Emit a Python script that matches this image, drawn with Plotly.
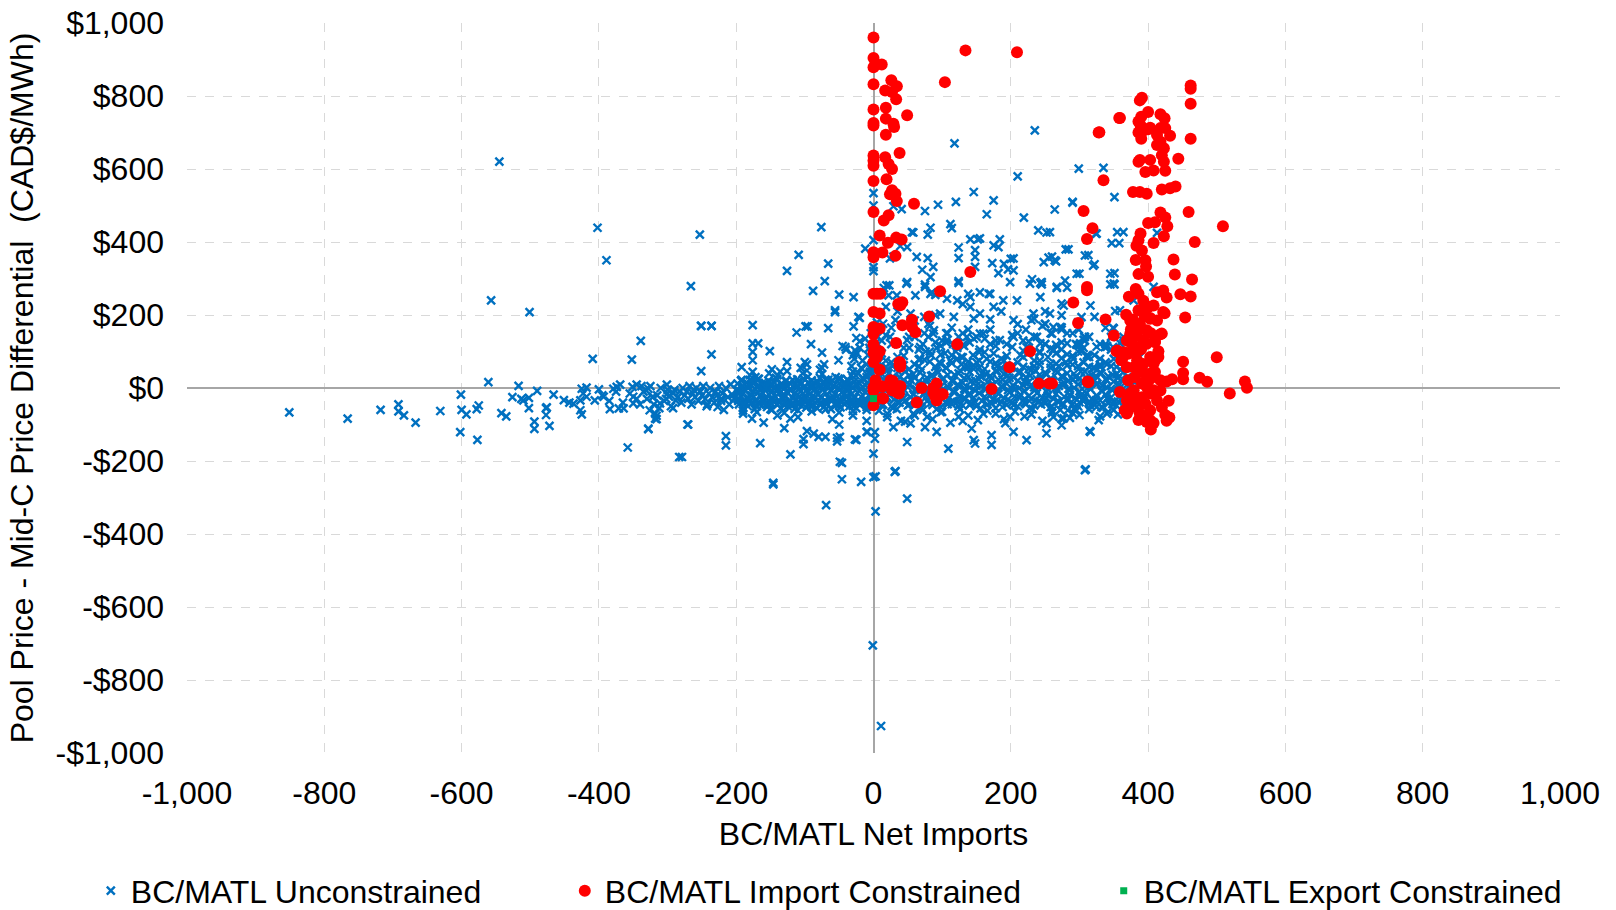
import plotly.graph_objects as go

# ---------------- tick labels ----------------
x_tickvals = [-1000, -800, -600, -400, -200, 0, 200, 400, 600, 800, 1000]
x_ticktext = ["-1,000", "-800", "-600", "-400", "-200", "0", "200", "400", "600", "800", "1,000"]
y_tickvals = [-1000, -800, -600, -400, -200, 0, 200, 400, 600, 800, 1000]
y_ticktext = ["-$1,000", "-$800", "-$600", "-$400", "-$200", "$0", "$200", "$400", "$600", "$800", "$1,000"]

# ---------------- BC/MATL Unconstrained (blue x) ----------------
# sparse left tail
tail_x = [-851, -766, -718, -692, -692, -684, -667, -631, -601, -600, -593, -602, -578, -575, -577, -561, -557, -545,
          -542, -535, -526, -517, -513, -510, -502, -502, -501, -490, -477, -477, -476, -494, -494, -472, -466, -451,
          -443, -437, -427, -425, -427, -425, -423, -418, -418, -409, -406, -402, -400, -393, -389, -384, -379, -374,
          -371, -369, -364, -358, -352, -351, -350, -350, -339, -345, -338, -328, -328, -326, -321, -316, -316, -311,
          -301, -300, -298, -292, -288, -283, -270, -266, -253, -251, -236, -251, -236, -227, -215, -215, -318, -318]
tail_y = [-67, -84, -60, -45, -64, -75, -95, -63, -18, -60, -72, -121, -58, -48, -142, 16, 240, 620,
          -69, -78, -25, 6, -30, -34, -55, -27, 208, -8, -55, -74, -53, -92, -112, -104, -18, -33,
          -40, -43, -34, -2, -61, -72, -15, 1, -24, 80, -34, 439, -4, -24, 350, -58, -2, 3,
          -56, 9, -56, -163, 78, 3, -24, -42, 129, 9, 5, -2, -113, -61, -24, -76, -85, -42,
          9, -5, -24, -55, -34, -189, -100, 279, 420, 170, 170, 46, 92, -52, -132, -157, -70, -84]

# band from -400 to -200
band_w_x = [-335, -330, -325, -320, -315, -310, -305, -300, -295, -290, -285, -280, -278, -275, -272, -270, -268, -265,
            -263, -260, -258, -255, -252, -250, -248, -245, -243, -240, -238, -235, -232, -230, -228, -225, -222, -220,
            -218, -215, -212, -210, -208, -205, -203, -200,
            -395, -385, -375, -365, -355, -345, -340, -332, -322, -312, -302, -292, -282, -262, -242, -222]
band_w_y = [-10, -30, 5, -45, -20, 0, -35, -15, -50, -5, -25, -40, 0, -20, -10, -30, 5, -45,
            -15, -25, 0, -35, -10, -20, 5, -30, -50, -15, 0, -25, -40, -10, -20, 5, -35, -15,
            -60, 0, -25, -45, 10, -20, -30, -5,
            -20, -35, -10, -40, -15, -30, -45, -5, -25, -55, -30, -15, -10, -5, -45, -30]

# dense band from -200 to 0
band_l_x = [-198, -196, -193, -190, -188, -185, -183, -180, -178, -175, -173, -170, -168, -165, -163, -160, -158, -155,
            -153, -150, -148, -145, -143, -140, -138, -135, -133, -130, -128, -125, -122, -120, -118, -115, -112, -110,
            -108, -105, -102, -100, -98, -95, -92, -90, -88, -85, -82, -80, -78, -75, -72, -70, -68, -65, -62, -60,
            -58, -55, -52, -50, -48, -45, -42, -40, -38, -35, -32, -30, -28, -25, -22, -20, -18, -15, -12, -10,
            -8, -5, -3, -1]
band_l_up = [12, -8, 20, 5, -3, 15, 0, 22, 8, -10, 18, 3, 25, -5, 10, 0, 14, -2, 20, 6,
             -8, 16, 2, 24, -4, 11, 7, -1, 19, 4, 13, -6, 22, 9, 0, 17, -3, 12, 26, 5,
             -7, 15, 1, 21, 8, -2, 18, 4, 28, -4, 10, 23, 2, 14, -6, 20, 7, 30, -1, 12,
             25, 3, 16, -5, 22, 9, 35, 0, 18, 6, 40, 12, -3, 25, 8, 30, 15, 45, 20, 10]
band_l_lo = [-30, -45, -22, -55, -38, -28, -50, -35, -42, -25, -58, -33, -40, -20, -48, -36, -27, -52, -44, -30,
             -60, -38, -24, -46, -34, -55, -29, -41, -22, -50, -37, -45, -26, -57, -32, -40, -23, -49, -35, -28,
             -54, -42, -30, -47, -21, -39, -56, -33, -44, -26, -51, -36, -43, -29, -58, -34, -25, -48, -40, -31,
             -53, -27, -45, -38, -22, -50, -35, -42, -28, -55, -33, -46, -24, -40, -30, -52, -36, -44, -27, -38]
band_l2_x = [-197, -192, -187, -182, -177, -172, -167, -162, -157, -152, -147, -142, -137, -132, -127, -121, -116, -111,
             -106, -101, -96, -91, -86, -81, -76, -71, -66, -61, -56, -51, -46, -41, -36, -31, -26, -21, -16, -11,
             -6, -2, -190, -170, -150, -130, -110, -90, -70, -50, -30, -10]
band_l2_y = [-15, 2, -8, 10, -20, -3, 6, -12, 0, -18, 8, -6, -14, 4, -10, -2, -16, 6,
             -9, 1, -13, 9, -5, -19, 3, -11, 7, -7, -17, 0, -12, 5, -4, -15, 10, -8, 2, -13,
             6, -6, -62, -66, -58, -68, -61, -64, -59, -67, -63, -60]
band_l3_y = [-35, 22, -42, -28, 18, -38, 25, -32, -45, 15, -30, 28, -40, -25, 20, -36, -44, 24, -33, -27,
             30, -39, -26, 16, -41, -34, 22, -29, -43, 26, -37, -24, 19, -31, 35, -40, 28, -35, 40, -30,
             -45, -50, -40, -48, -44, -52, -42, -46, -50, -44]

# dense band from 0 to 380
band_r_x = [2, 6, 10, 14, 18, 22, 26, 30, 34, 38, 42, 46, 50, 54, 58, 62, 66, 70, 74, 78, 82, 86, 90, 94, 98,
            102, 106, 110, 114, 118, 122, 126, 130, 134, 138, 142, 146, 150, 154, 158, 162, 166, 170, 174, 178,
            182, 186, 190, 194, 198, 202, 206, 210, 214, 218, 222, 226, 230, 234, 238, 242, 246, 250, 254, 258,
            262, 266, 270, 274, 278, 282, 286, 290, 294, 298, 302, 306, 310, 314, 318, 322, 326, 330, 334, 338,
            342, 346, 350, 354, 358, 362, 366, 370, 374, 378]
band_r_up = [20, 5, 32, -2, 15, 40, 8, 25, -5, 30, 12, 45, 2, 22, 38, -3, 18, 50, 10, 28,
             -6, 35, 15, 42, 4, 26, 55, 0, 20, 36, 8, 48, 14, -4, 30, 18, 52, 6, 24, 40,
             -2, 16, 33, 10, 46, 22, 4, 38, 12, 28, 58, -4, 20, 44, 8, 30, 16, 50, 2, 24,
             36, 12, 42, -3, 26, 18, 48, 6, 32, 14, 40, -5, 22, 30, 10, 45, 16, 28, 4, 36,
             20, 12, 42, 6, 24, 32, -2, 18, 38, 10, 26, 14, 30, 4, 20]
band_r_lo = [-20, -38, -12, -45, -28, -15, -50, -32, -22, -40, -10, -35, -48, -25, -18, -42, -30, -55, -14, -36,
             -24, -46, -20, -33, -52, -16, -40, -27, -44, -12, -38, -22, -48, -30, -18, -42, -26, -50, -14, -35,
             -24, -45, -20, -32, -55, -16, -38, -28, -46, -12, -40, -24, -50, -18, -34, -44, -22, -30, -48, -14,
             -36, -26, -42, -20, -52, -30, -16, -38, -46, -24, -34, -18, -44, -28, -50, -20, -36, -14, -40, -30,
             -46, -22, -34, -54, -18, -42, -26, -38, -48, -24, -32, -44, -20, -36, -28]
band_c_x = [4, 12, 20, 28, 36, 44, 52, 60, 68, 76, 84, 92, 100, 108, 116, 124, 132, 140, 148, 156, 164, 172, 180,
            188, 196, 204, 212, 220, 228, 236, 244, 252, 260, 268, 276, 284, 292, 300, 308, 316, 324, 332, 340, 348,
            356, 364, 372]
band_c_y = [0, -8, 6, -12, 3, -4, 10, -6, 2, -10, 8, 0, -5, 4, -9, 7, -2, 1, -7, 5,
            -3, 9, -11, 2, -6, 6, -1, -8, 4, -4, 8, -10, 3, -5, 7, -2, 0, -9, 5, -3,
            10, -7, 1, -6, 6, -1, 3]
band_c_lo = [-30, -48, -25, -55, -38, -28, -45, -33, -52, -26, -40, -58, -30, -44, -35, -50, -27, -46, -38, -56,
             -29, -42, -34, -52, -31, -47, -26, -40, -55, -33, -45, -28, -50, -36, -42, -30, -57, -39, -25, -48,
             -34, -52, -29, -44, -37, -50, -32]
band_c_up = [25, 38, 18, 30, 45, 22, 35, 28, 42, 20, 33, 48, 24, 36, 19, 40, 27, 44, 21, 32,
             38, 26, 46, 23, 35, 29, 41, 18, 34, 47, 25, 37, 22, 43, 30, 20, 39, 27, 45, 24,
             33, 40, 21, 36, 28, 44, 26]
band_g_x = [8, 20, 34, 46, 58, 72, 86, 98, 112, 126, 138, 152, 166, 178, 192, 206, 220, 232, 246, 260, 272, 286,
            300, 314, 328, 342, 356, 370]
band_g_y = [-62, -80, -58, -92, -70, -60, -85, -66, -95, -58, -75, -88, -62, -70, -96, -64, -78, -58, -90, -68, -60,
            -82, -74, -58, -88, -65, -72, -60]

# taller columns rising out of the band
col_x = [-180, -176, -172, -178, -152, -148, -140, -136, -106, -100, -103, -78, -72, -75, -32, -28, -24, -20, -16,
         -12, -8, -5, -2, -30, -18, -10,
         68, 72, 76, 80, 84, 88, 92, 96, 100, 104, 108, 112, 116, 120, 124, 128, 132, 136, 130, 140, 145, 150, 155,
         160, 165, 170, 175, 128, 150, 214, 218, 222, 226, 230, 234, 238, 242, 246, 250, 254, 258, 262, 291, 295,
         299, 303, 307, 311, 28, 40, 20, 180, 190, 200, 270, 280, 320, 340, 360, 350,
         -8, -5, -3, 2, 5, 8, -6, 4, -2, 6, 3, -4]
col_y = [35, 44, 30, 20, 40, 51, 35, 45, 55, 71, 40, 50, 65, 38, 60, 80, 95, 110, 75,
         135, 90, 120, 100, 45, 55, 65,
         80, 120, 100, 140, 90, 158, 110, 70, 130, 95, 150, 75, 120, 100, 140, 85, 115, 60, 150, 125, 90, 140, 105,
         149, 80, 120, 95, 65, 70, 90, 130, 160, 110, 186, 75, 140, 100, 170, 120, 85, 150, 105, 80, 120,
         160, 100, 140, 90, 60, 75, 50, 60, 75, 55, 60, 70, 55, 65, 50, 80,
         35, 55, 80, 45, 95, 70, 110, 125, 60, 140, 30, 150]

# scattered points above the band
up_x = [-251, -236, -176, -112, -99, -96, -66, -56, -29, -20, 18, -176, -168, -176, -176, -192, -151, -126, -126,
        -97, -97, -91, -75, -75, -51, -30, -40, -25, -20, -45, -76, -109, -126, -66, -71, -88, -50, -56, -12,
        0, 0, 0, 0, 0,
        29, 41, 75, 94, 120, 118, 146, 175, 165, 235, 210, 219, 264, 290, 299, 335, 351, 364, 358, 324, 83, 112,
        114, 79, 56, 58, 63, 79, 71, 24, 29, 39, 49, 124, 124, 124, 141, 155, 152, 148, 148, 148, 175, 182, 184,
        173, 182, 190, 196, 204, 200, 204, 83, 87, 49, 75, 85, 90, 15, 23, 34, 240, 252, 231, 243, 245, 255, 264,
        248, 280, 296, 308, 320, 351, 351, 267, 279, 170, 155, 141, 290, 325, 355, 347, 413, 284, 313, 322, 266,
        260, 257, 300, 345, 345, 274, 274, 303, 274, 308, 299, 274, 325, 340, 350, 359, 364, 262, 260, 257,
        19, 48, 75, 124, 199, 228, 245, 282, 350, -29, 22, 61, 83, 107, 138, 168, 189, 209, 243, 267, 277, 316,
        352, 379, 408, -22, 14, 32, 54, 80, 97, 117, 141, 155, 175, 204, 233, 250, 272, 301, 340, 364, 379, -41,
        -27, 24, 49, 68, 87, 107, 136, 155, 184, 204, 223, 243, 262, 282, 311, 330, 354, 388, 296, 301, 308, 337,
        349, 349, 359, 362]
up_y = [170, 170, 172, 152, 169, 169, 164, 208, 169, 192, 222, 122, 122, 99, 76, 57, 101, 71, 46,
        65, 48, 120, 97, 55, 76, 90, 105, 137, 128, 115, 441, 365, 321, 341, 293, 266, 256, 213, 382,
        405, 534, 500, 331, 320,
        498, 490, 485, 502, 510, 670, 537, 514, 476, 706, 580, 467, 489, 510, 601, 603, 523, 427, 397, 423, 439, 449,
        438, 420, 427, 426, 359, 356, 324, 355, 360, 389, 386, 385, 356, 293, 407, 410, 407, 378, 359, 332, 391, 386, 407,
        342, 315, 340, 325, 355, 354, 322, 304, 332, 290, 283, 262, 255, 274, 281, 254, 432, 426, 298, 288, 284, 357, 350,
        345, 380, 313, 363, 335, 315, 284, 274, 294, 258, 262, 249, 508, 423, 427, 397, 425, 380, 364, 339, 347,
        360, 427, 313, 313, 284, 231, 199, 194, 166, 140, 117, 106, 113, 115, 163, 213, 130, 167, 149, 204,
        281, 286, 277, 288, 290, 286, 290, 275, 286, 249, 254, 254, 258, 245, 258, 258, 240, 240, 249, 277, 226, 226,
        211, 240, 277, 195, 176, 186, 204, 176, 204, 195, 222, 204, 222, 186, 204, 176, 167, 122, 113, 140, 158, 112,
        103, 140, 131, 112, 149, 131, 140, 149, 131, 140, 112, 122, 103, 122, 85, 58, 58, 85, 119, 119, 130, 112,
        112, 165, 123, 94]
mid_x = [5, 12, 18, 26, 35, 44, 52, 60, 66, 74, 82, 90, 98, 106, 114, 122, 130, 138, 146, 154, 162, 170, 178, 186,
         194, 202, 210, 218, 226, 234, 242, 250, 258, 266, 274, 282, 290, 298, 306, 314, 322, 330, 338, 346]
mid_y1 = [60, 95, 75, 120, 55, 88, 140, 65, 105, 78, 170, 58, 92, 125, 68, 110, 84, 160, 62, 98, 135, 72, 115, 55,
          88, 145, 70, 102, 128, 60, 96, 175, 66, 118, 82, 150, 64, 100, 132, 58, 90, 120, 70, 105]
mid_y2 = [180, 50, 145, 70, 210, 110, 52, 185, 60, 150, 72, 200, 115, 55, 165, 80, 230, 56, 190, 75, 52, 160, 68, 210,
          120, 60, 175, 85, 52, 190, 64, 120, 55, 95, 160, 62, 88, 180, 70, 140, 55, 80, 165, 60]
mid_y3 = [100, 130, 58, 165, 85, 62, 110, 140, 78, 195, 100, 125, 66, 150, 90, 240, 118, 72, 135, 56,
          98, 188, 130, 80, 62, 112, 150, 58, 96, 140, 75, 210, 108, 66, 125, 92, 150, 60, 110, 85,
          195, 64, 120, 140]

# scattered points below the band
down_x = [-328, -271, -279, -177, -165, -121, -121, -102, -102, -97, -87, -80, -70, -53, -53, -46, -25, -9, 2, 0,
          -146, -146, -46, -18, 3, 32, 49, -69, 3, -1, 11, -140, -160, -110, -60, -30, -130, -50, -190, -10,
          -49, -49, -10, 0, -27, 2, 29, 31, 49, 54, 75, 78, 92, 109, 124, 143, 146, 148, 172, 172, 199, 204, 223,
          252, 252, 262, 277, 308, 316, 340, 309, 315, 20, 60, 100, 160, 230, 290, 350, 40, 130, 190, 260, 330,
          274, 274, 283, 296, 305, 314, 325]
down_y = [-111, -100, -189, -84, -151, -84, -182, -140, -154, -118, -125, -134, -134, -137, -146, -250, -142, -120, -121, -180,
          -260, -264, -205, -257, -242, -228, -303, -321, -338, -705, -926, -75, -95, -80, -85, -75, -110, -100, -70, -90,
          -134, -202, -120, -244, -141, -139, -107, -230, -148, -97, -107, -79, -120, -166, -79, -111, -143, -152, -129, -156, -79, -120, -143,
          -124, -97, -79, -83, -225, -120, -70, -223, -118, -70, -75, -65, -70, -72, -68, -60, -90, -90, -85, -62, -78,
          -84, -102, -61, -61, -34, -43, -52]

# ---------------- BC/MATL Import Constrained (red dots) ----------------
red_x = [0, 0, 12, 0, 0, 26, 34, 17, 27, 33, 0, 18, 0, 0, 18, 29, 30, 49, 18, 0, 0, 0, 17, 22, 27, 38, 0, 19,
         27, 32, 24, 34, 59, 0, 15, 22, 9, 21, 33, 41, 0, 0, 13, 32, 141, 97, 0, 5, 10, 39, 42, 36, 0, 9, 81, 0, 9,
         0, 42, 56, 56, 61, 33, 122, 0, 9, 0, 0, 5, 9, 39, 39, 38, 38, 25, 30, 37, 39, 13, 0, 0, 3, 13, 0, 70, 63,
         87, 92, 92, 93, 99, 87, 101, 92, 90, 172, 198, 228, 241, 256, 28, 39, 33, 27, 14, 10,
         134, 209, 104, 306, 319, 311, 328, 335, 359, 311, 311, 291, 298, 338, 350, 354, 361, 355, 362, 313, 312, 260,
         462, 462, 462, 462, 391, 388, 400, 358, 329, 418, 424, 386, 390, 389, 386, 393, 400, 390, 403, 418, 425,
         432, 413, 418, 423, 420, 413, 423, 425, 444, 386, 403, 396, 408, 388, 378, 388, 398, 420, 432, 440, 459,
         509, 468, 418, 425, 428, 400, 410, 423, 408, 389, 386, 383, 391, 382, 396, 397, 386, 400, 437, 439, 464,
         447, 462, 454, 372, 382, 386, 393, 400, 408, 413, 422, 427, 424, 368, 378, 388, 375, 395, 403, 418, 410,
         404, 375, 380, 365, 390, 451, 500, 451, 451, 475, 486, 541, 544, 519, 435, 427, 418, 430, 420, 425, 431,
         427, 408, 404, 369, 366, 359, 374, 398,
         403, 422, 420, 410, 415, 410, 403, 388, 381, 376, 376, 388, 384, 398, 403, 391, 379, 381, 396, 403, 403,
         413, 388, 384, 398, 408, 410, 374, 386, 396, 379, 393, 371, 376, 371, 398, 408, 418, 393, 386, 398, 413,
         381, 374, 391, 386, 403, 408, 415, 371, 369, 384, 401, 396, 369, 369, 374]
red_y = [960, 904, 886, 879, 832, 843, 827, 815, 811, 791, 763, 768, 726, 719, 738, 724, 715, 747, 694, 637, 623, 609,
         632, 614, 600, 644, 567, 572, 542, 532, 531, 512, 505, 482, 459, 473, 418, 398, 412, 407, 372, 358, 371, 362,
         318, 265, 258, 258, 258, 227, 235, 230, 208, 204, 196, 167, 163, 148, 172, 187, 167, 153, 123, 120, 120, 101,
         97, 71, 85, 50, 68, 58, 71, 62, 21, -6, -15, 4, 4, 2, -7, 21, -28, -47, 0, -40, 0, 12, -19, -26, -17, -13,
         -17, -34, -23, -3, 57, 101, 12, 12, 19, 5, -10, -6, -29, 5,
         925, 920, 838, 485, 438, 408, 700, 569, 740, 277, 268, 234, 178, 188, 144, 101, 76, 103, 78, 16, 18, 12,
         829, 820, 779, 683, 795, 788, 756, 740, 701, 750, 739, 730, 743, 720, 700, 705, 709, 683, 713, 712, 712,
         691, 693, 675, 657, 638, 666, 620, 595, 628, 620, 625, 592, 596, 625, 537, 537, 532, 544, 547, 552, 482,
         443, 400, 481, 467, 443, 452, 454, 416, 397, 423, 405, 390, 377, 351, 350, 333, 312, 305, 352, 311, 297,
         257, 251, 193, 250, 271, 258, 239, 221, 226, 262, 267, 248, 205, 201, 188, 170, 161, 197, 192, 147, 126,
         150, 133, 115, 98, 107, 72, 84, 41, 24, 28, 17, 18, 1, -15, 24, 18, -7, -35, -53, -74, -81,
         -90, -96, -114, -70, -61, -11, -34, -93,
         190, 208, 149, 126, 101, 76, 39, 48, 94, 121, 158, 176, 144, 121, 85, 12, -6, -34, -43, -15, -61,
         -34, -70, -52, 3, 30, 44, 185, 213, 227, 57, 66, 21, -43, -61, -79, -6, 21, 130, 103, 158, 185,
         30, -15, -25, -88, -88, 67, 85, 94, 57, 76, 21, 39, -34, 130, 149]

# ---------------- BC/MATL Export Constrained (green squares) ----------------
green_x = [0]
green_y = [-29]

# ---------------- assemble blue series ----------------
blue_x, blue_y = [], []
for xs, ys in [(tail_x, tail_y), (band_w_x, band_w_y), (band_l_x, band_l_up), (band_l_x, band_l_lo),
               (band_l2_x, band_l2_y), (band_l2_x, band_l3_y), (band_r_x, band_r_up), (band_r_x, band_r_lo),
               (band_c_x, band_c_y), (band_c_x, band_c_lo), (band_c_x, band_c_up), (band_g_x, band_g_y),
               (col_x, col_y), (up_x, up_y), (mid_x, mid_y1), (mid_x, mid_y2), (mid_x, mid_y3),
               (down_x, down_y)]:
    for a, b in zip(xs, ys):
        blue_x.append(a)
        blue_y.append(b)

FONT = "Liberation Sans, Arial, sans-serif"
BLACK = "#000000"
FS = 32

fig = go.Figure()
fig.add_trace(go.Scatter(
    x=blue_x, y=blue_y, mode="markers", name="BC/MATL Unconstrained", legend="legend",
    marker=dict(symbol="x-thin", size=8, color="#0070C0", line=dict(width=2.4, color="#0070C0")),
))
fig.add_trace(go.Scatter(
    x=red_x, y=red_y, mode="markers", name="BC/MATL Import Constrained", legend="legend2",
    marker=dict(symbol="circle", size=12, color="#FF0000", line=dict(width=0)),
))
fig.add_trace(go.Scatter(
    x=green_x, y=green_y, mode="markers", name="BC/MATL Export Constrained", legend="legend3",
    marker=dict(symbol="square", size=7, color="#00B050", line=dict(width=0)),
))

leg_common = dict(xref="container", yref="container", y=0.021, yanchor="middle", xanchor="left",
                  font=dict(family=FONT, size=FS, color=BLACK), bgcolor="rgba(0,0,0,0)",
                  itemwidth=30, orientation="h")

fig.update_layout(
    width=1616, height=910,
    margin=dict(l=187, r=56, t=23, b=157, autoexpand=False),
    paper_bgcolor="white", plot_bgcolor="white",
    font=dict(family=FONT, size=FS, color=BLACK),
    showlegend=True,
    legend=dict(x=0.0562, **leg_common),
    legend2=dict(x=0.3495, **leg_common),
    legend3=dict(x=0.6830, **leg_common),
)
fig.update_xaxes(
    range=[-1000, 1000], tickvals=x_tickvals, ticktext=x_ticktext, automargin=False,
    showgrid=True, gridcolor="#D9D9D9", griddash="dash", gridwidth=1,
    zeroline=True, zerolinecolor="#A6A6A6", zerolinewidth=2,
    showline=False, ticks="", ticklabelstandoff=18,
    tickfont=dict(family=FONT, size=FS, color=BLACK),
    title=dict(text="BC/MATL Net Imports", font=dict(family=FONT, size=FS, color=BLACK), standoff=12),
)
fig.update_yaxes(
    range=[-1000, 1000], tickvals=y_tickvals, ticktext=y_ticktext, automargin=False,
    showgrid=True, gridcolor="#D9D9D9", griddash="dash", gridwidth=1,
    zeroline=True, zerolinecolor="#A6A6A6", zerolinewidth=2,
    showline=False, ticks="", ticklabelstandoff=22,
    tickfont=dict(family=FONT, size=FS, color=BLACK),
    title=dict(text="Pool Price - Mid-C Price Differential  (CAD$/MWh)",
               font=dict(family=FONT, size=FS, color=BLACK), standoff=12),
)

fig.write_html("out.html")
